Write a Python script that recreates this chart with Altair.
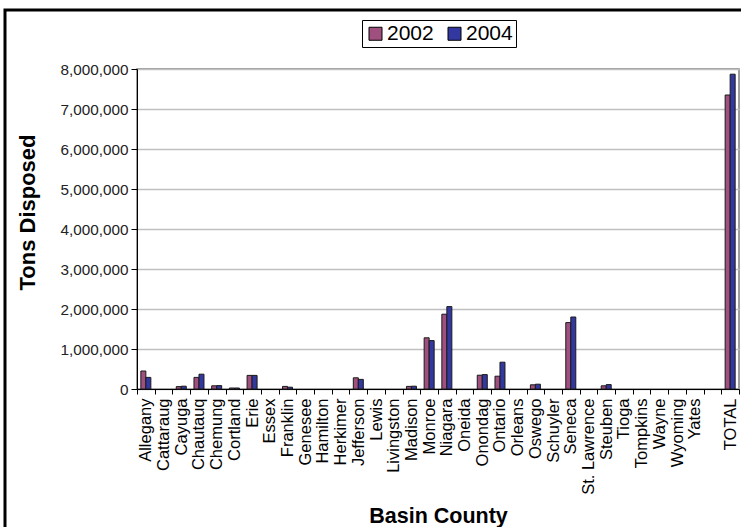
import altair as alt
import pandas as pd

# Basin counties along the x axis (a blank slot separates the total)
counties = [
    "Allegany", "Cattaraug", "Cayuga", "Chautauq", "Chemung", "Cortland",
    "Erie", "Essex", "Franklin", "Genesee", "Hamilton", "Herkimer",
    "Jefferson", "Lewis", "Livingston", "Madison", "Monroe", "Niagara",
    "Oneida", "Onondag", "Ontario", "Orleans", "Oswego", "Schuyler",
    "Seneca", "St. Lawrence", "Steuben", "Tioga", "Tompkins", "Wayne",
    "Wyoming", "Yates", " ", "TOTAL",
]

# Tons disposed per county
tons_2002 = [
    450000, 0, 60000, 290000, 80000, 25000,
    340000, 0, 65000, 0, 0, 0,
    280000, 0, 0, 65000, 1280000, 1870000,
    0, 345000, 320000, 0, 105000, 0,
    1660000, 0, 80000, 0, 0, 0,
    0, 0, 0, 7350000,
]
tons_2004 = [
    290000, 0, 70000, 370000, 85000, 25000,
    340000, 0, 45000, 0, 0, 0,
    240000, 0, 0, 70000, 1210000, 2060000,
    0, 360000, 670000, 0, 120000, 0,
    1800000, 0, 110000, 0, 0, 0,
    0, 0, 0, 7870000,
]

years = ["2002", "2004"]
colors = ["#A0507F", "#3338A0"]
y_ticks = [0, 1000000, 2000000, 3000000, 4000000, 5000000, 6000000, 7000000, 8000000]

rows = []
for county, a, b in zip(counties, tons_2002, tons_2004):
    rows.append({"county": county, "year": years[0], "tons": a})
    rows.append({"county": county, "year": years[1], "tons": b})
df = pd.DataFrame(rows)

FONT = "Liberation Sans"
W, H = 602, 320

bars = (
    alt.Chart(df)
    .transform_filter("datum.tons > 0")
    .mark_bar(stroke="#1a1a1a", strokeWidth=1)
    .encode(
        x=alt.X(
            "county:N",
            sort=counties,
            scale=alt.Scale(domain=counties, paddingInner=0, paddingOuter=0),
            axis=alt.Axis(
                title="Basin County",
                titleFont=FONT,
                titleFontSize=21.5,
                titleFontWeight="bold",
                titleColor="black",
                titleY=133,
                titleBaseline="alphabetic",
                labelFont=FONT,
                labelFontSize=16.5,
                labelColor="black",
                labelAngle=-90,
                labelAlign="right",
                labelBaseline="middle",
                labelPadding=4,
                tickBand="extent",
                tickSize=5,
                tickColor="black",
                domainColor="black",
                grid=False,
            ),
        ),
        xOffset=alt.XOffset(
            "year:N",
            scale=alt.Scale(domain=years, paddingInner=0, paddingOuter=0.77),
        ),
        y=alt.Y(
            "tons:Q",
            scale=alt.Scale(domain=[0, 8000000], nice=False),
            axis=alt.Axis(
                title="Tons Disposed",
                titleFont=FONT,
                titleFontSize=22,
                titleFontWeight="bold",
                titleColor="black",
                titleX=-103,
                titleY=143,
                titleAlign="center",
                titleBaseline="alphabetic",
                values=y_ticks,
                format=",d",
                labelFont=FONT,
                labelFontSize=15.3,
                labelColor="#222222",
                labelPadding=3,
                tickSize=6,
                tickColor="black",
                domainColor="black",
                gridColor="#c0c0c0",
                gridWidth=1.5,
            ),
        ),
        color=alt.Color(
            "year:N",
            scale=alt.Scale(domain=years, range=colors),
            legend=alt.Legend(
                title=None,
                orient="none",
                direction="horizontal",
                legendX=225,
                legendY=-49,
                labelFont=FONT,
                labelFontSize=21,
                labelColor="black",
                labelOffset=1,
                symbolType="square",
                symbolSize=169,
                symbolStrokeColor="black",
                symbolStrokeWidth=1,
                columnPadding=10,
                strokeColor="black",
                fillColor="white",
                padding=3,
            ),
        ),
    )
)

# Outer frame of the chart
frame = (
    alt.Chart(pd.DataFrame({"k": [0]}))
    .mark_rect(fill=None, stroke="black", strokeWidth=3)
    .encode(
        x=alt.value(-132),
        x2=alt.value(700),
        y=alt.value(-59),
        y2=alt.value(500),
    )
)

chart = (
    alt.layer(frame, bars)
    .properties(
        width=W,
        height=H,
        autosize=alt.AutoSizeParams(type="none"),
        padding={"left": 137, "top": 69, "right": 2, "bottom": 138},
        background="white",
    )
    .configure_view(stroke="#7f7f7f", strokeWidth=1.5)
)

chart.save("out.html", embed_options={"renderer": "svg", "actions": False})
